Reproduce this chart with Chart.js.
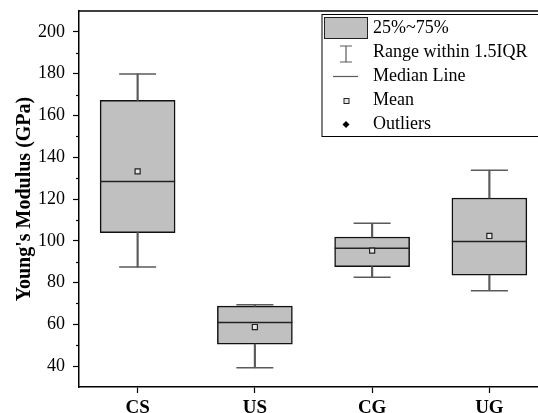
<!DOCTYPE html>
<html>
<head>
<meta charset="utf-8">
<script src="https://cdn.jsdelivr.net/npm/chart.js@4.4.1/dist/chart.umd.min.js"></script>
<style>
  html, body { margin: 0; padding: 0; background: #fff; overflow: hidden; width: 538px; height: 413px; }
  #wrap { width: 560px; height: 440px; }
</style>
</head>
<body>
<div id="wrap"><canvas id="chart" width="560" height="440"></canvas></div>
<script>
// samples
const groups = ['CS', 'US', 'CG', 'UG'];
const whiskerLow = [87.4, 39.2, 82.5, 76.1];
const q1 = [103.9, 50.5, 87.6, 83.5];
const median = [128.4, 60.9, 96.4, 99.6];
const q3 = [167.2, 68.7, 101.8, 120.5];
const whiskerHigh = [179.9, 69.4, 108.4, 133.8];
const mean = [133.2, 58.7, 95.3, 102.3];

// axis
const yMin = 30, yMax = 210;
const yMajor = [40, 60, 80, 100, 120, 140, 160, 180, 200];
const yMinor = [50, 70, 90, 110, 130, 150, 170, 190];

const legendLabels = ['25%~75%', 'Range within 1.5IQR', 'Median Line', 'Mean', 'Outliers'];

const serif = "'Liberation Serif', 'Times New Roman', serif";
const boxFill = '#c0c0c0';
const whiskerColor = '#5a5a5a';

// extra bits: top frame, minor ticks, legend
const extras = {
    id: 'extras',
    afterDraw(chart) {
        const c = chart.ctx;
        const area = chart.chartArea;
        const y = chart.scales.y;

        c.save();
        // top frame line
        c.strokeStyle = '#000';
        c.lineWidth = 1.5;
        c.beginPath();
        c.moveTo(area.left - 0.75, area.top);
        c.lineTo(chart.width, area.top);
        c.stroke();

        // minor ticks
        c.lineWidth = 1.2;
        yMinor.forEach(v => {
            const py = Math.round(y.getPixelForValue(v)) + 0.5;
            c.beginPath();
            c.moveTo(area.left - 3, py);
            c.lineTo(area.left, py);
            c.stroke();
        });

        // legend
        const lx = 322, ly = 14.5, rowH = 24;
        c.lineWidth = 1;
        c.strokeStyle = '#000';
        c.fillStyle = '#fff';
        c.fillRect(lx, ly, chart.width, 122);
        c.strokeRect(lx, ly, chart.width, 122);

        const sx = 346;
        c.font = '18px ' + serif;
        c.fillStyle = '#000';
        c.textBaseline = 'middle';
        legendLabels.forEach((t, i) => {
            c.fillText(t, 373, 28 + i * rowH);
        });

        // box symbol
        c.fillStyle = boxFill;
        c.fillRect(324, 17, 43, 21);
        c.strokeStyle = '#222';
        c.strokeRect(324.5, 17.5, 43, 21);

        // range symbol
        c.strokeStyle = whiskerColor;
        c.lineWidth = 1.2;
        c.beginPath();
        c.moveTo(sx - 6, 46); c.lineTo(sx + 6, 46);
        c.moveTo(sx, 46); c.lineTo(sx, 62);
        c.moveTo(sx - 6, 62); c.lineTo(sx + 6, 62);
        c.stroke();

        // median symbol
        c.beginPath();
        c.moveTo(333, 76.5); c.lineTo(358, 76.5);
        c.stroke();

        // mean symbol
        c.fillStyle = '#e6e6e6';
        c.fillRect(sx - 2, 98.5, 5, 5);
        c.strokeStyle = '#222';
        c.lineWidth = 1;
        c.strokeRect(sx - 2, 98.5, 5, 5);

        // outlier symbol
        c.fillStyle = '#000';
        c.beginPath();
        c.moveTo(sx, 121); c.lineTo(sx + 3.5, 124.5); c.lineTo(sx, 128); c.lineTo(sx - 3.5, 124.5);
        c.closePath();
        c.fill();
        c.restore();
    }
};

const ctx = document.getElementById('chart').getContext('2d');
new Chart(ctx, {
    type: 'bar',
    data: {
        labels: groups,
        datasets: [
            {
                label: 'upper whisker',
                data: groups.map((g, i) => [q3[i], whiskerHigh[i]]),
                backgroundColor: whiskerColor,
                barThickness: 1.5,
                grouped: false,
                borderWidth: 0,
                order: 2
            },
            {
                label: 'lower whisker',
                data: groups.map((g, i) => [whiskerLow[i], q1[i]]),
                backgroundColor: whiskerColor,
                barThickness: 1.5,
                grouped: false,
                borderWidth: 0,
                order: 2
            },
            {
                label: '25%~75%',
                data: groups.map((g, i) => [q1[i], q3[i]]),
                backgroundColor: boxFill,
                borderColor: '#111',
                borderWidth: 1.5,
                borderSkipped: false,
                barThickness: 75,
                grouped: false,
                order: 2
            },
            {
                type: 'line',
                label: 'max cap',
                data: whiskerHigh,
                showLine: false,
                pointStyle: 'line',
                pointRadius: 18.5,
                pointBorderColor: whiskerColor,
                pointBorderWidth: 1.5,
                order: 1
            },
            {
                type: 'line',
                label: 'min cap',
                data: whiskerLow,
                showLine: false,
                pointStyle: 'line',
                pointRadius: 18.5,
                pointBorderColor: whiskerColor,
                pointBorderWidth: 1.5,
                order: 1
            },
            {
                type: 'line',
                label: 'Median Line',
                data: median,
                showLine: false,
                pointStyle: 'line',
                pointRadius: 37.5,
                pointBorderColor: '#222',
                pointBorderWidth: 1.5,
                order: 1
            },
            {
                type: 'line',
                label: 'Mean',
                data: mean,
                showLine: false,
                pointStyle: 'rect',
                pointRadius: 3.6,
                pointBackgroundColor: '#e6e6e6',
                pointBorderColor: '#222',
                pointBorderWidth: 1.2,
                order: 0
            }
        ]
    },
    options: {
        responsive: false,
        animation: false,
        events: [],
        layout: { autoPadding: false, padding: { left: 0, top: 11, right: 12, bottom: 0 } },
        plugins: {
            legend: { display: false },
            tooltip: { enabled: false }
        },
        scales: {
            x: {
                type: 'category',
                offset: true,
                grid: { display: true, drawOnChartArea: false, offset: false, tickLength: 6, tickColor: '#000', tickWidth: 1.2 },
                border: { color: '#000', width: 1.5 },
                ticks: {
                    color: '#000',
                    padding: 4,
                    font: { family: serif, size: 19, weight: 'bold' }
                },
                afterFit: s => { s.height = 440 - 387; s.paddingLeft = 0; s.paddingRight = 0; }
            },
            y: {
                min: yMin,
                max: yMax,
                afterBuildTicks: s => { s.ticks = yMajor.map(v => ({ value: v })); },
                grid: { display: true, drawOnChartArea: false, tickLength: 6, tickColor: '#000', tickWidth: 1.2 },
                border: { color: '#000', width: 1.5 },
                ticks: {
                    color: '#000',
                    padding: 8,
                    font: { family: serif, size: 18 }
                },
                title: {
                    display: true,
                    text: "Young's Modulus (GPa)",
                    color: '#000',
                    font: { family: serif, size: 20, weight: 'bold' },
                    padding: { top: 13, bottom: 0 }
                },
                afterFit: s => { s.width = 79; s.paddingTop = 0; s.paddingBottom = 0; }
            }
        }
    },
    plugins: [extras]
});
</script>
</body>
</html>
